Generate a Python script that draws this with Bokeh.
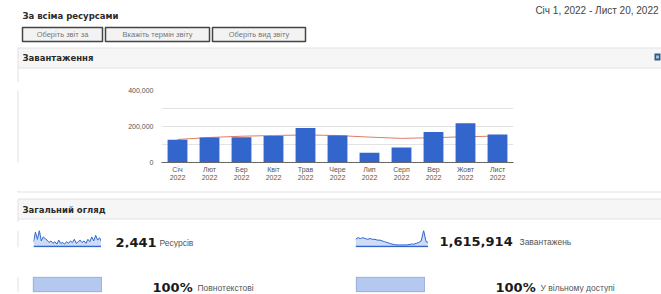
from bokeh.plotting import figure
from bokeh.models import Range1d, FactorRange, FixedTicker, NumeralTickFormatter, Span
from bokeh.layouts import column, row
from bokeh.core.properties import value
from bokeh.embed import file_html
from bokeh.resources import INLINE

# ---------------- data ----------------
title_text = "За всіма ресурсами"
date_text = "Січ 1, 2022 - Лист 20, 2022"
button_labels = ["Оберіть звіт за", "Вкажіть термін звіту", "Оберіть вид звіту"]
section_downloads = "Завантаження"
section_overview = "Загальний огляд"

months = ["Січ", "Лют", "Бер", "Квіт", "Трав", "Чере", "Лип", "Серп", "Вер", "Жовт", "Лист"]
years = ["2022"] * 11
downloads = [127000, 139000, 140000, 147000, 191000, 150000, 54000, 84000, 169000, 218000, 156000]
trend = [128000, 139000, 146000, 150000, 153000, 150000, 141000, 134000, 138000, 143000, 147000]
y_ticks = [0, 200000, 400000]
grid_ticks = [100000, 200000, 300000, 400000]

resources_total = 2441
downloads_total = 1615914
resources_label = "Ресурсів"
downloads_label = "Завантажень"
resources_spark = [6, 18, 9, 20, 7, 12, 10, 8, 5, 7, 4, 6, 3, 8, 4, 5, 3, 6, 4, 7,
                   5, 9, 4, 6, 8, 5, 7, 4, 9, 6, 12, 7, 14, 8, 11, 6]
downloads_spark = [9, 11, 10, 11, 10, 9, 10, 9, 9, 8, 8, 7, 6, 5, 4, 3, 2.5, 2, 2, 2,
                   2, 2, 2.5, 3, 3, 4, 5, 7, 20, 6, 5]
fulltext_pct = 100
open_access_pct = 100
fulltext_label = "Повнотекстові"
open_access_label = "У вільному доступі"

# ---------------- styles ----------------
BORDER = "#e2e2e2"
HEAD_FILL = "#f6f6f6"
BLUE = "#3366cc"
BOLD_FONT = "DejaVu Sans"
REG_FONT = "Liberation Sans"
W = 661


def canvas(x0, y0, w, h):
    """Figure whose data coordinates are page pixel coordinates."""
    p = figure(width=w, height=h, x_range=Range1d(x0, x0 + w), y_range=Range1d(y0 + h, y0),
               output_backend="svg", toolbar_location=None,
               x_axis_location=None, y_axis_location=None, min_border=0,
               outline_line_color=None)
    p.grid.visible = False
    p.background_fill_color = "white"
    p.border_fill_color = "white"
    return p


def txt(p, x, y, s, size, color, font=REG_FONT, bold=False, align="left"):
    p.text(x=[x], y=[y], text=[s], text_font=value(font), text_font_size=f"{size}px",
           text_font_style="bold" if bold else "normal", text_color=color,
           text_baseline="middle", text_align=align)


def vborder(p, y0, y1):
    p.segment(x0=[17.5], y0=[y0], x1=[17.5], y1=[y1], line_color=BORDER, line_width=1)


# ---------------- band A: header ----------------
top = canvas(0, 0, W, 82)
txt(top, 22, 15, title_text, 8.5, "#2a2a2a", BOLD_FONT, True)
txt(top, 658, 10, date_text, 10, "#444444", align="right")
btn_left = [22, 105, 212]
btn_right = [102, 209, 305]
top.quad(left=btn_left, right=btn_right, top=[27] * 3, bottom=[41] * 3,
         fill_color="#f3f3f3", line_color="#444444", line_width=1.5)
for l, r, s in zip(btn_left, btn_right, button_labels):
    txt(top, (l + r) / 2, 34, s, 7.5, "#777777", align="center")
top.quad(left=[17.5], right=[700], top=[47.5], bottom=[67.5],
         fill_color=HEAD_FILL, line_color=BORDER, line_width=1)
vborder(top, 67.5, 82)
txt(top, 22, 57, section_downloads, 8.5, "#2a2a2a", BOLD_FONT, True)
top.quad(left=[654], right=[660], top=[53], bottom=[60], fill_color="#2f5d8a", line_color=None)
top.quad(left=[655.5], right=[658.5], top=[55], bottom=[58], fill_color="#a9bfd8", line_color=None)

# ---------------- band B: chart ----------------
left_b = canvas(0, 82, 100, 108)
vborder(left_b, 82, 190)

factors = [f"{m}\n{y}" for m, y in zip(months, years)]
chart = figure(width=W - 100, height=108, x_range=FactorRange(factors=factors),
               y_range=Range1d(0, 400000), output_backend="svg", toolbar_location=None,
               min_border_left=61, min_border_right=W - 513, min_border_top=8, min_border_bottom=28,
               outline_line_color=None)
chart.background_fill_color = "white"
chart.border_fill_color = "white"
chart.line(x=factors, y=trend, line_color="#e07a68", line_width=1)
chart.vbar(x=factors, top=downloads, width=0.62, fill_color=BLUE, line_color=None)

chart.xgrid.visible = False
chart.ygrid.ticker = FixedTicker(ticks=grid_ticks)
chart.ygrid.grid_line_color = "#e3e3e3"

chart.yaxis.ticker = FixedTicker(ticks=y_ticks)
chart.yaxis.formatter = NumeralTickFormatter(format="0,0")
chart.yaxis.axis_line_color = None
chart.yaxis.major_tick_line_color = None
chart.yaxis.minor_tick_line_color = None
chart.yaxis.major_tick_out = 0
chart.yaxis.major_label_standoff = 8
chart.yaxis.major_label_text_font = REG_FONT
chart.yaxis.major_label_text_font_size = "7px"
chart.yaxis.major_label_text_color = "#555555"

chart.xaxis.axis_line_color = "#666666"
chart.xaxis.major_tick_line_color = None
chart.xaxis.major_tick_out = 0
chart.xaxis.major_label_standoff = 3
chart.xaxis.major_label_text_font = REG_FONT
chart.xaxis.major_label_text_font_size = "7px"
chart.xaxis.major_label_text_color = "#555555"

band_b = row(left_b, chart, spacing=0)

# ---------------- band C: overview ----------------
c1 = canvas(0, 190, W, 32)
vborder(c1, 190, 191.5)
c1.segment(x0=[17.5], y0=[191.5], x1=[700], y1=[191.5], line_color=BORDER, line_width=1)
c1.quad(left=[17.5], right=[700], top=[198.5], bottom=[218.5],
        fill_color=HEAD_FILL, line_color=BORDER, line_width=1)
vborder(c1, 218.5, 222)
txt(c1, 22, 209, section_overview, 8.5, "#2a2a2a", BOLD_FONT, True)


def spark(vals, w, h, pad_top, pad_bottom):
    p = figure(width=w, height=h, x_range=Range1d(0, len(vals) - 1),
               y_range=Range1d(-0.06 * max(vals), max(vals)), output_backend="svg",
               toolbar_location=None, x_axis_location=None, y_axis_location=None,
               min_border_left=0, min_border_right=0, min_border_top=pad_top,
               min_border_bottom=pad_bottom, outline_line_color=None)
    p.grid.visible = False
    xs = list(range(len(vals)))
    p.varea(x=xs, y1=[0] * len(vals), y2=vals, fill_color="#c9d8f4", fill_alpha=0.9)
    p.line(x=xs, y=vals, line_color=BLUE, line_width=1)
    p.add_layout(Span(location=0, dimension="width", line_color=BLUE, line_width=1.5))
    return p


pad2 = canvas(0, 222, 33, 30)
vborder(pad2, 222, 252)
sp1 = spark(resources_spark, 68, 30, 6, 5)
t2a = canvas(101, 222, 254, 30)
txt(t2a, 115, 243, f"{resources_total:,}", 13, "#1a1a1a", BOLD_FONT, True)
txt(t2a, 159, 244, resources_label, 8.5, "#555555")
sp2 = spark(downloads_spark, 73, 30, 8, 4)
t2b = canvas(428, 222, W - 428, 30)
txt(t2b, 439, 242, f"{downloads_total:,}", 13, "#1a1a1a", BOLD_FONT, True)
txt(t2b, 519, 243, downloads_label, 8.5, "#555555")
row2 = row(pad2, sp1, t2a, sp2, t2b, spacing=0)


def pctbar(pct, w, h, pad_top, pad_bottom):
    p = figure(width=w, height=h, x_range=Range1d(-1, 101), y_range=Range1d(-0.05, 1.05),
               output_backend="svg", toolbar_location=None,
               x_axis_location=None, y_axis_location=None,
               min_border_left=0, min_border_right=0, min_border_top=pad_top,
               min_border_bottom=pad_bottom, outline_line_color=None)
    p.grid.visible = False
    p.hbar(y=[0.5], left=[0], right=[pct], height=1.0, fill_color="#b5c8ef",
           line_color="#8ea8dc", line_width=1)
    return p


pad3 = canvas(0, 252, 32, 42)
vborder(pad3, 252, 294)
bx1 = pctbar(fulltext_pct, 70, 42, 24, 1)
t3a = canvas(102, 252, 253, 42)
txt(t3a, 152, 281, f"{fulltext_pct}%", 13, "#1a1a1a", BOLD_FONT, True)
txt(t3a, 197, 282, fulltext_label, 8.5, "#555555")
bx2 = pctbar(open_access_pct, 70, 42, 23, 2)
t3b = canvas(425, 252, W - 425, 42)
txt(t3b, 495, 281, f"{open_access_pct}%", 13, "#1a1a1a", BOLD_FONT, True)
txt(t3b, 540, 282, open_access_label, 8.5, "#555555")
row3 = row(pad3, bx1, t3a, bx2, t3b, spacing=0)

page = column(top, band_b, c1, row2, row3, spacing=0)

open("out.html", "w").write(file_html(page, INLINE))
